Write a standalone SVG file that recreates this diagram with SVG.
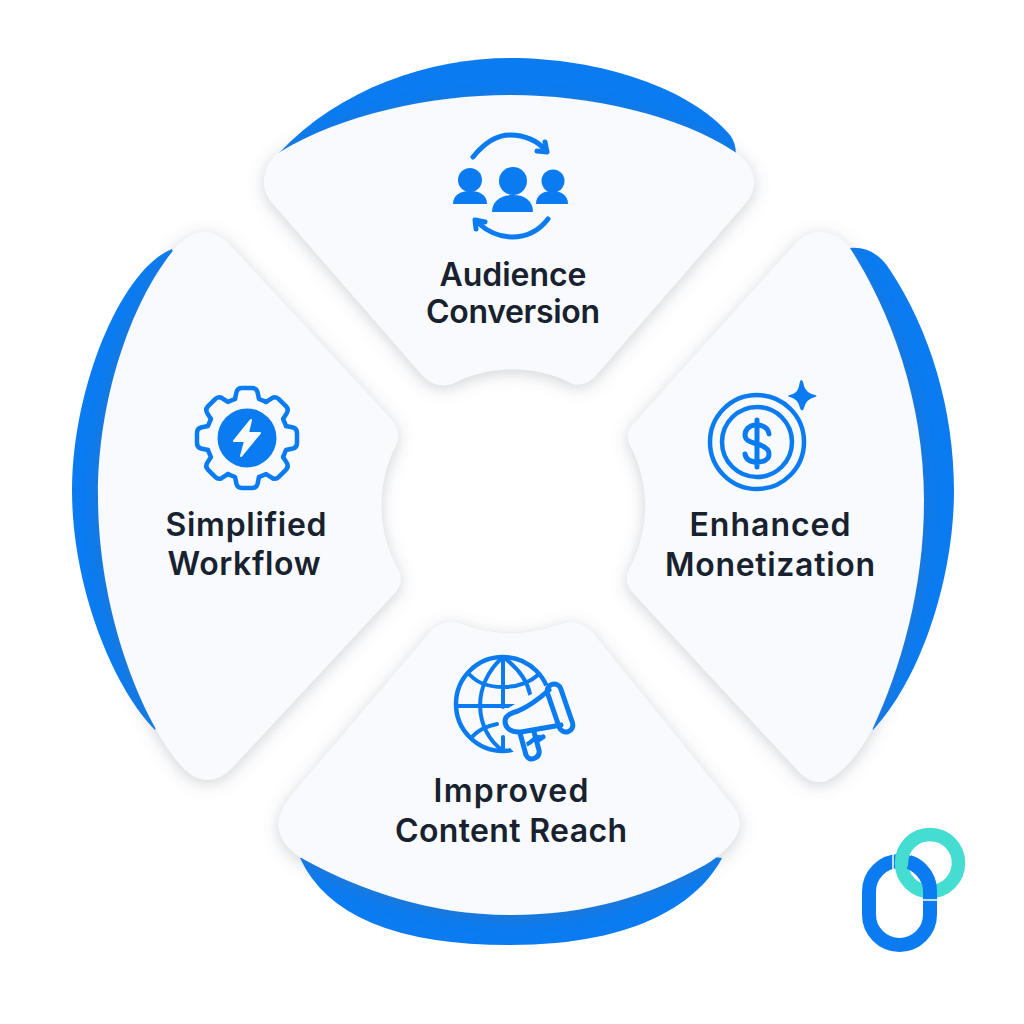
<svg xmlns="http://www.w3.org/2000/svg" width="1024" height="1024" viewBox="0 0 1024 1024">
<defs>
<style>
.panel{fill:#f8fafd;filter:url(#sh)}
.cres{fill:#0a7bf1}
.lbl{font-family:"Inter","Liberation Sans",sans-serif;font-weight:600;font-size:32px;fill:#18222f;text-anchor:middle}
.ln{fill:none;stroke:#0a7bf1;stroke-linecap:round;stroke-linejoin:round}
.fl{fill:#0a7bf1}
</style>
<filter id="sh" x="-15%" y="-15%" width="130%" height="130%"><feDropShadow dx="0" dy="3" stdDeviation="8" flood-color="#5f6b7a" flood-opacity=".3"/></filter>
<path id="tooth" d="M-12-39L-10.500-46Q-9.500-50-5-50H5Q9.500-50 10.500-46L12-39L19.100-36.100"/>
</defs>
<rect width="1024" height="1024" fill="#fff"/>
<g id="connectors"/>
<g id="node-top">
<path class="cres" d="M279 153C340 88 430 58 510 58C600 58 690 88 730 135Q736 143 736 155L500 200Z"/>
<path class="panel" d="M280 152C340 115 430 95 510 95C590 95 680 115 735 152Q752 164 754 180Q755 193 745 204L598 373Q587 387 573 384A132 132 0 0 0 452 384Q435 389 422 375L274 205Q263 193 264 180Q266 162 280 152Z"/>
<g id="icon-audience">
<path class="ln" stroke-width="5" d="M473 157C485 142 497 135 510 135C525 135 538 141 545 150"/>
<path class="ln" stroke-width="5" d="M545 142L547 152L537 151"/>
<path class="ln" stroke-width="5" d="M548 219C538 232 526 237 512 237C498 237 487 231 478 223"/>
<path class="ln" stroke-width="5" d="M476 229L475 220L485 222"/>
<circle class="fl" cx="470" cy="180" r="12"/><path class="fl" d="M453 204C453 195 460 191 470 191C480 191 487 195 487 204Z"/>
<circle class="fl" cx="513" cy="181" r="14"/><path class="fl" d="M492 212C492 201 501 195 513 195C525 195 533 201 533 212Z"/>
<circle class="fl" cx="553" cy="181" r="11.500"/><path class="fl" d="M536 204C536 195 543 191 552 191C561 191 568 195 568 204Z"/>
</g>
<text class="lbl" x="513" y="286" textLength="147">Audience</text>
<text class="lbl" x="513" y="323" textLength="174">Conversion</text>
</g>
<g id="node-left">
<path class="cres" d="M172 249C120 270 72 390 72 490C72 590 115 690 155 730L250 500Z"/>
<path class="panel" d="M172 252Q188 232 206 232Q218 233 228 243L390 418Q402 432 396 445A132 132 0 0 0 397 568Q406 582 393 595L232 768Q220 781 205 780Q190 778 178 762C140 715 98 610 98 495C98 400 130 305 172 252Z"/>
<g id="icon-workflow">
<g class="ln" stroke-width="4.500">
<use href="#tooth" transform="translate(247,438)"/>
<use href="#tooth" transform="translate(247,438) rotate(45)"/>
<use href="#tooth" transform="translate(247,438) rotate(90)"/>
<use href="#tooth" transform="translate(247,438) rotate(135)"/>
<use href="#tooth" transform="translate(247,438) rotate(180)"/>
<use href="#tooth" transform="translate(247,438) rotate(225)"/>
<use href="#tooth" transform="translate(247,438) rotate(270)"/>
<use href="#tooth" transform="translate(247,438) rotate(315)"/>
</g>
<circle class="fl" cx="247" cy="438" r="29.500"/>
<path d="M251 420L234 441H245L241 456L260 433H248Z" fill="#f8fafd" stroke="#f8fafd" stroke-width="2" stroke-linejoin="round"/>
</g>
<text class="lbl" x="246" y="536" textLength="161">Simplified</text>
<text class="lbl" x="244" y="575" textLength="153">Workflow</text>
</g>
<g id="node-right">
<path class="cres" d="M850 248Q875 246 890 270C930 330 954 410 954 490C954 580 920 680 873 730L800 500Z"/>
<path class="panel" d="M850 248C890 310 924 400 924 500C924 590 900 670 873 728Q850 770 826 781Q812 785 800 773L635 595Q622 582 630 568A132 132 0 0 0 630 445Q624 432 637 420L795 244Q806 232 820 232Q838 233 850 248Z"/>
<g id="icon-monetization">
<circle class="ln" stroke-width="4.500" cx="757" cy="442" r="47"/>
<circle class="ln" stroke-width="4.500" cx="757" cy="442" r="35"/>
<path class="ln" stroke-width="5" d="M769 434C768 427 762 425 756 425C749 425 745 430 745 435C745 441 751 442 757 444C764 446 769 449 769 454C769 460 763 462 757 462C751 462 746 460 745 454M757 420V467"/>
<path class="fl" d="M801 380Q803 380 804 386Q806 393 815 395Q818 396 815 397Q806 399 804 408Q802 413 800 408Q798 399 790 397Q786 396 790 395Q798 393 799 386Q800 380 801 380Z"/>
</g>
<text class="lbl" x="770" y="536" textLength="161">Enhanced</text>
<text class="lbl" x="770" y="576" textLength="210">Monetization</text>
</g>
<g id="node-bottom">
<path class="cres" d="M300 858Q340 945 510 945C640 945 700 900 722 858L500 830Z"/>
<path class="panel" d="M432 630Q447 617 464 625A132 132 0 0 0 558 625Q576 617 592 632L728 800Q744 818 738 832Q730 850 705 865C650 895 590 915 510 915C430 915 360 890 305 860Q283 848 279 830Q276 815 290 797Z"/>
<g id="icon-reach">
<circle class="ln" stroke-width="4.500" cx="503" cy="704" r="47"/>
<path class="ln" stroke-width="4" d="M503 657C471 685 474 730 503 751M503 657C518 668 527 680 530 694M503 657V707M503 737V751M456 706H514M470 675C485 691 520 691 538 675M472 737C478 730 487 726 497 724"/>
<path d="M508 713L548 689L567 728L519 733L524 750L538 752L528 762L512 744Z" fill="#f8fafd" stroke="#f8fafd" stroke-width="8" stroke-linejoin="round"/>
<path class="ln" stroke-width="5" d="M518 711C530 706 540 698 549 690M561 725L521 732C510 733 505 727 505 721C505 716 510 713 518 711"/>
<rect class="ln" stroke-width="5" x="553" y="683" width="14" height="50" rx="7" transform="rotate(-19 560 708)" fill="#f8fafd"/>
<path class="ln" stroke-width="5" d="M520 733L526 755Q529 761 535 758Q540 756 539 750L534 732M537 741L543 737"/>
</g>
<text class="lbl" x="511" y="802" textLength="155">Improved</text>
<text class="lbl" x="511" y="842" textLength="232">Content Reach</text>
</g>
<g id="logo">
<rect x="869" y="861" width="61" height="84" rx="30.500" fill="none" stroke="#0a7bf1" stroke-width="14"/>
<circle cx="930" cy="863" r="28.500" fill="none" stroke="#45dcd2" stroke-width="13.500"/>
<path d="M893 854V870" stroke="#fff" stroke-width="1.500"/>
<path fill="none" stroke="#0a7bf1" stroke-width="14" d="M909 862A30.500 30.500 0 0 1 930 891V899"/>
<path d="M922 900H938" stroke="#fff" stroke-width="1.500"/>
</g>
</svg>
